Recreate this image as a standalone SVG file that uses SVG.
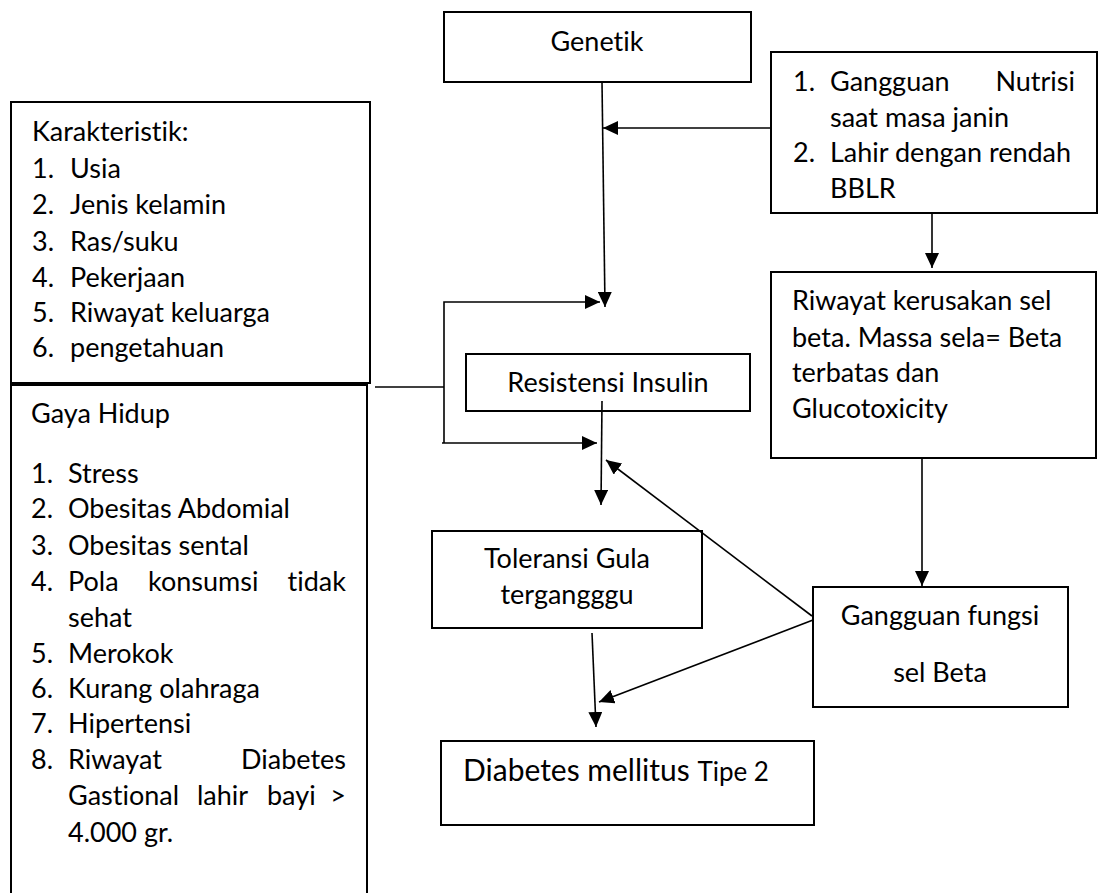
<svg xmlns="http://www.w3.org/2000/svg" width="1099" height="893" viewBox="0 0 1099 893">
<style>
.box{fill:#fff;stroke:#000;stroke-width:2}
.ln{fill:none;stroke:#000;stroke-width:1.6}
.t{font-family:Lato,"Open Sans","Liberation Sans",sans-serif;font-size:27px;fill:#000;font-variant-ligatures:none;font-feature-settings:"liga" 0,"clig" 0}
.c{text-anchor:middle}
.e{text-anchor:end}
</style>
<defs>
<marker id="ah" markerUnits="userSpaceOnUse" markerWidth="15" markerHeight="14" refX="15" refY="7" orient="auto">
<path d="M0,0 L15,7 L0,14 z" fill="#000"/>
</marker>
</defs>
<rect width="1099" height="893" fill="#fff"/>

<g id="genetik">
<rect class="box" x="444" y="12" width="307" height="70"/>
<text class="t c" x="597" y="51">Genetik</text>
</g>

<g id="nutrisi">
<rect class="box" x="771" y="52" width="326" height="161"/>
<text class="t"><tspan x="793" y="91">1.</tspan><tspan x="830" y="91">Gangguan</tspan><tspan x="1075" y="91" text-anchor="end">Nutrisi</tspan><tspan x="830" y="127">saat masa janin</tspan><tspan x="793" y="162">2.</tspan><tspan x="830" y="162">Lahir dengan rendah</tspan><tspan x="830" y="198">BBLR</tspan></text>
</g>

<g id="karakteristik">
<rect class="box" x="11" y="102" width="359" height="281"/>
<text class="t"><tspan x="32" y="141">Karakteristik:</tspan><tspan x="32" y="178">1.</tspan><tspan x="70" y="178">Usia</tspan><tspan x="32" y="214">2.</tspan><tspan x="70" y="214">Jenis kelamin</tspan><tspan x="32" y="251">3.</tspan><tspan x="70" y="251">Ras/suku</tspan><tspan x="32" y="287">4.</tspan><tspan x="70" y="287">Pekerjaan</tspan><tspan x="32" y="322">5.</tspan><tspan x="70" y="322">Riwayat keluarga</tspan><tspan x="32" y="357">6.</tspan><tspan x="70" y="357">pengetahuan</tspan></text>
</g>

<g id="gaya-hidup">
<rect class="box" x="11" y="385" width="356" height="520"/>
<text class="t"><tspan x="31" y="423">Gaya Hidup</tspan><tspan x="31" y="483">1.</tspan><tspan x="68" y="483">Stress</tspan><tspan x="31" y="518">2.</tspan><tspan x="68" y="518">Obesitas Abdomial</tspan><tspan x="31" y="555">3.</tspan><tspan x="68" y="555">Obesitas sental</tspan><tspan x="31" y="591">4.</tspan><tspan x="68" y="591">Pola</tspan><tspan x="148" y="591">konsumsi</tspan><tspan x="346" y="591" text-anchor="end">tidak</tspan><tspan x="68" y="627">sehat</tspan><tspan x="31" y="663">5.</tspan><tspan x="68" y="663">Merokok</tspan><tspan x="31" y="698">6.</tspan><tspan x="68" y="698">Kurang olahraga</tspan><tspan x="31" y="733">7.</tspan><tspan x="68" y="733">Hipertensi</tspan><tspan x="31" y="769">8.</tspan><tspan x="68" y="769">Riwayat</tspan><tspan x="346" y="769" text-anchor="end">Diabetes</tspan><tspan x="68" y="805">Gastional</tspan><tspan x="197" y="805">lahir</tspan><tspan x="267" y="805">bayi</tspan><tspan x="346" y="805" text-anchor="end">&gt;</tspan><tspan x="68" y="842">4.000 gr.</tspan></text>
</g>

<g id="resistensi">
<rect class="box" x="466" y="354" width="284" height="57"/>
<text class="t c" x="608" y="392">Resistensi Insulin</text>
</g>

<g id="riwayat">
<rect class="box" x="771" y="272" width="325" height="186"/>
<text class="t"><tspan x="792" y="310">Riwayat kerusakan sel</tspan><tspan x="792" y="347">beta. Massa sela= Beta</tspan><tspan x="792" y="382">terbatas dan</tspan><tspan x="792" y="418">Glucotoxicity</tspan></text>
</g>

<g id="toleransi">
<rect class="box" x="432" y="531" width="270" height="97"/>
<text class="t c"><tspan x="567" y="568">Toleransi Gula</tspan><tspan x="567" y="604">tergangggu</tspan></text>
</g>

<g id="gangguan-fungsi">
<rect class="box" x="813" y="587" width="255" height="120"/>
<text class="t c"><tspan x="940" y="625">Gangguan fungsi</tspan><tspan x="940" y="682">sel Beta</tspan></text>
</g>

<g id="diabetes">
<rect class="box" x="441" y="741" width="373" height="84"/>
<text class="t" x="463" y="781"><tspan font-size="30">Diabetes mellitus </tspan><tspan font-size="26">Tipe 2</tspan></text>
</g>

<g id="connectors">
<path class="ln" d="M602,82 L605,307" marker-end="url(#ah)"/>
<path class="ln" d="M771,128 L603,128" marker-end="url(#ah)"/>
<path class="ln" d="M444,443 L444,302 L600,302" marker-end="url(#ah)"/>
<path class="ln" d="M442,443 L597,443" marker-end="url(#ah)"/>
<path class="ln" d="M375,387 L444,387"/>
<path class="ln" d="M602,401 L601,505" marker-end="url(#ah)"/>
<path class="ln" d="M812,616 L606,460" marker-end="url(#ah)"/>
<path class="ln" d="M813,620 L599,702" marker-end="url(#ah)"/>
<path class="ln" d="M592,633 L596,727" marker-end="url(#ah)"/>
<path class="ln" d="M932,213 L932,268" marker-end="url(#ah)"/>
<path class="ln" d="M922,458 L922,586" marker-end="url(#ah)"/>
</g>
</svg>
